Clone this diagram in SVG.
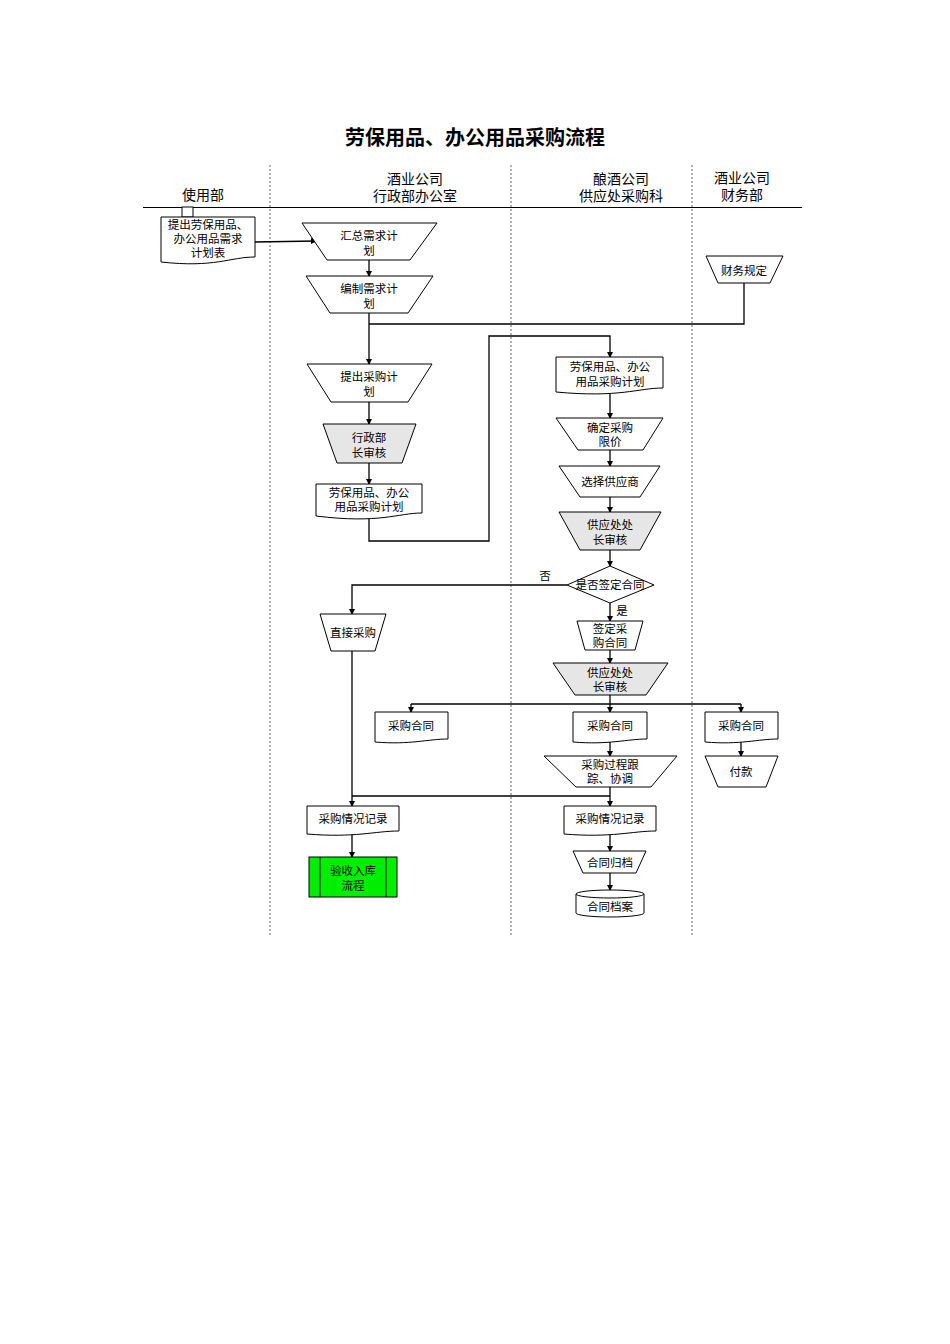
<svg xmlns="http://www.w3.org/2000/svg" width="950" height="1344" viewBox="0 0 950 1344">
<defs>
<marker id="ar" markerWidth="6" markerHeight="6" refX="5" refY="3" orient="auto" markerUnits="userSpaceOnUse"><path d="M0,0 L6,3 L0,6 z" fill="#000"/></marker>
<style>
text{font-family:"Liberation Sans","Noto Sans CJK SC",sans-serif;font-size:11.5px;text-anchor:middle;fill:#000}
.h{font-size:14px}
.t{font-size:20px;font-weight:bold}
.s{fill:#fff;stroke:#000;stroke-width:1}
.g{fill:#e6e6e6;stroke:#000;stroke-width:1}
.c{fill:none;stroke:#000;stroke-width:1.3}
.a{marker-end:url(#ar)}
.lane{stroke:#666;stroke-width:1;stroke-dasharray:2,2}
</style>
</defs>
<rect width="950" height="1344" fill="#fff"/>
<text class="t" x="475" y="145">劳保用品、办公用品采购流程</text>
<g id="lanes">
<line class="lane" x1="270" y1="165" x2="270" y2="937"/>
<line class="lane" x1="511" y1="165" x2="511" y2="937"/>
<line class="lane" x1="692" y1="165" x2="692" y2="937"/>
<line x1="143" y1="207.5" x2="802" y2="207.5" stroke="#000"/>
<text class="h" x="203" y="200">使用部</text>
<text class="h" x="415" y="184">酒业公司</text><text class="h" x="415" y="201">行政部办公室</text>
<text class="h" x="621" y="184">酿酒公司</text><text class="h" x="621" y="201">供应处采购科</text>
<text class="h" x="742" y="183">酒业公司</text><text class="h" x="742" y="200">财务部</text>
</g>
<g id="connectors">
<line class="c a" x1="255" y1="242" x2="316" y2="241"/>
<line class="c a" x1="369" y1="260" x2="369" y2="276"/>
<line class="c a" x1="369" y1="313" x2="369" y2="364"/>
<polyline class="c" points="369,324 744,324 744,283"/>
<line class="c a" x1="369" y1="402" x2="369" y2="424"/>
<line class="c a" x1="369" y1="463" x2="369" y2="484"/>
<polyline class="c a" points="369,518 369,541 489,541 489,336 610,336 610,357"/>
<line class="c a" x1="610" y1="392" x2="610" y2="418"/>
<line class="c a" x1="610" y1="450" x2="610" y2="466"/>
<line class="c a" x1="610" y1="497" x2="610" y2="512"/>
<line class="c a" x1="610" y1="550" x2="610" y2="566"/>
<polyline class="c a" points="567,585 352,585 352,614"/>
<line class="c a" x1="610" y1="603" x2="610" y2="621"/>
<line class="c a" x1="610" y1="650" x2="610" y2="663"/>
<line class="c" x1="610" y1="695" x2="610" y2="704"/>
<line class="c" x1="411" y1="704" x2="741" y2="704"/>
<line class="c a" x1="411" y1="704" x2="411" y2="712"/>
<line class="c a" x1="610" y1="704" x2="610" y2="712"/>
<line class="c a" x1="741" y1="704" x2="741" y2="712"/>
<line class="c a" x1="741" y1="742" x2="741" y2="756"/>
<line class="c a" x1="610" y1="742" x2="610" y2="756"/>
<line class="c a" x1="352" y1="651" x2="352" y2="806"/>
<line class="c" x1="352" y1="796" x2="610" y2="796"/>
<line class="c a" x1="610" y1="787" x2="610" y2="806"/>
<line class="c a" x1="352" y1="834" x2="352" y2="857"/>
<line class="c a" x1="610" y1="835" x2="610" y2="851"/>
<line class="c a" x1="610" y1="873" x2="610" y2="890"/>
<text x="545" y="580">否</text>
<text x="622" y="615">是</text>
</g>
<g id="n1"><rect class="s" x="182" y="207" width="11" height="10"/><path class="s" d="M161,217 H255 V257 C230,257 215,268 161,262 Z"/><text x="208" y="229">提出劳保用品、</text><text x="208" y="243">办公用品需求</text><text x="208" y="257">计划表</text></g>
<g id="n2"><path class="s" d="M302,223 H437 L410,260 H327 Z"/><text x="369" y="240">汇总需求计</text><text x="369" y="255">划</text></g>
<g id="n3"><path class="s" d="M306,276 H433 L408,313 H330 Z"/><text x="369" y="293">编制需求计</text><text x="369" y="308">划</text></g>
<g id="n4"><path class="s" d="M706,256 H783 L770,283 H718 Z"/><text x="744" y="275">财务规定</text></g>
<g id="n5"><path class="s" d="M307,364 H432 L408,402 H331 Z"/><text x="369" y="381">提出采购计</text><text x="369" y="396">划</text></g>
<g id="n6"><path class="g" d="M323,424 H416 L402,463 H337 Z"/><text x="369" y="442">行政部</text><text x="369" y="457">长审核</text></g>
<g id="n7"><path class="s" d="M316,484 H422 V513 C398,513 380,524 316,516 Z"/><text x="369" y="497">劳保用品、办公</text><text x="369" y="511">用品采购计划</text></g>
<g id="n8"><path class="s" d="M556,357 H663 V388 C638,388 620,398 556,392 Z"/><text x="610" y="371">劳保用品、办公</text><text x="610" y="386">用品采购计划</text></g>
<g id="n9"><path class="s" d="M556,418 H663 L643,450 H578 Z"/><text x="610" y="432">确定采购</text><text x="610" y="446">限价</text></g>
<g id="n10"><path class="s" d="M559,466 H660 L640,497 H580 Z"/><text x="610" y="486">选择供应商</text></g>
<g id="n11"><path class="g" d="M559,512 H661 L640,550 H580 Z"/><text x="610" y="529">供应处处</text><text x="610" y="544">长审核</text></g>
<g id="n12"><path class="s" d="M610,566 L654,585 L610,603 L567,585 Z"/><text x="610" y="589">是否签定合同</text></g>
<g id="n13"><path class="s" d="M320,614 H386 L375,651 H331 Z"/><text x="353" y="637">直接采购</text></g>
<g id="n14"><path class="s" d="M577,621 H643 L635,650 H585 Z"/><text x="610" y="633">签定采</text><text x="610" y="647">购合同</text></g>
<g id="n15"><path class="g" d="M553,663 H668 L646,695 H575 Z"/><text x="610" y="677">供应处处</text><text x="610" y="691">长审核</text></g>
<g id="n16"><path class="s" d="M375,712 H448 V739 C428,739 410,745 375,742 Z"/><text x="411" y="730">采购合同</text></g>
<g id="n17"><path class="s" d="M573,712 H647 V739 C627,739 609,745 573,742 Z"/><text x="610" y="730">采购合同</text></g>
<g id="n18"><path class="s" d="M705,712 H778 V739 C758,739 740,745 705,742 Z"/><text x="741" y="730">采购合同</text></g>
<g id="n19"><path class="s" d="M705,756 H778 L766,787 H718 Z"/><text x="741" y="776">付款</text></g>
<g id="n20"><path class="s" d="M544,756 H677 L651,787 H576 Z"/><text x="610" y="769">采购过程跟</text><text x="610" y="783">踪、协调</text></g>
<g id="n21"><path class="s" d="M307,806 H399 V831 C375,831 355,838 307,834 Z"/><text x="353" y="823">采购情况记录</text></g>
<g id="n22"><path class="s" d="M564,806 H656 V831 C632,831 612,838 564,834 Z"/><text x="610" y="823">采购情况记录</text></g>
<g id="n23"><rect x="309" y="857" width="88" height="40" fill="#00ee00" stroke="#000"/><line x1="320" y1="857" x2="320" y2="897" stroke="#000"/><line x1="386" y1="857" x2="386" y2="897" stroke="#000"/><text x="353" y="875">验收入库</text><text x="353" y="890">流程</text></g>
<g id="n24"><path class="s" d="M573,851 H646 L636,873 H583 Z"/><text x="610" y="867">合同归档</text></g>
<g id="n25"><path class="s" d="M576,894 A34,4 0 0 1 644,894 V913 A34,4 0 0 1 576,913 Z"/><path d="M576,894 A34,4 0 0 0 644,894" fill="none" stroke="#000"/><text x="610" y="911">合同档案</text></g>
</svg>
